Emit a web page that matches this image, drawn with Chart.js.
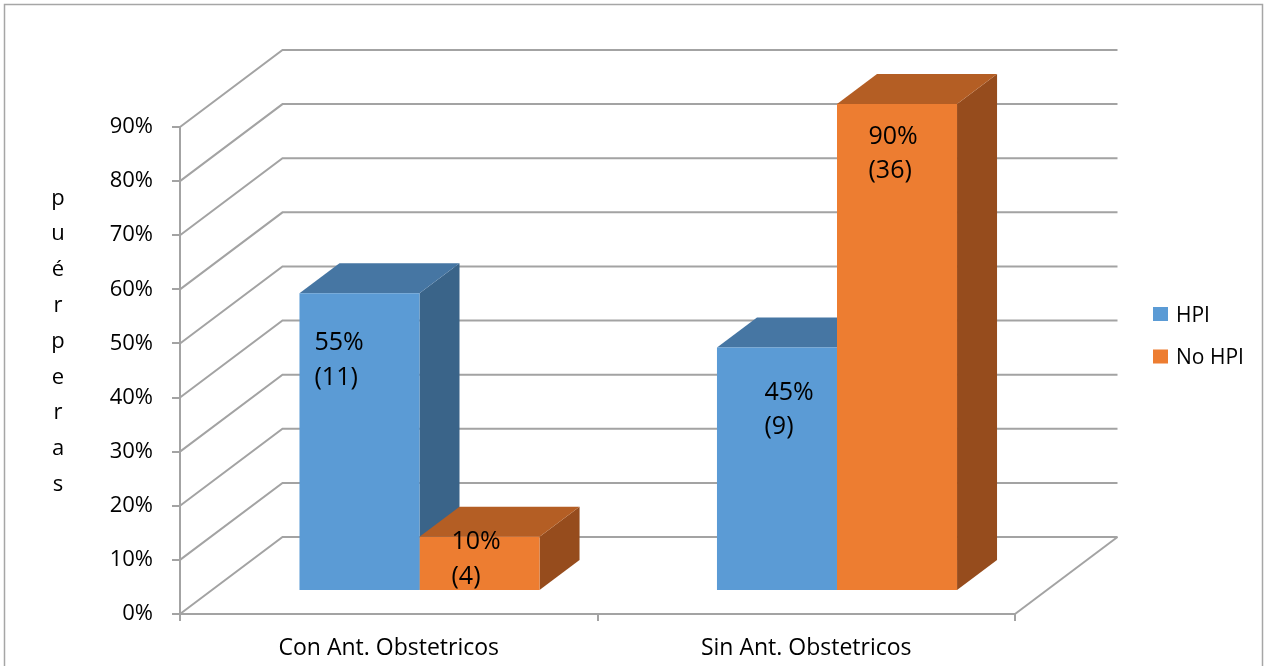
<!DOCTYPE html>
<html>
<head>
<meta charset="utf-8">
<title>HPI en puérperas</title>
<script src="https://cdn.jsdelivr.net/npm/chart.js@4.4.1/dist/chart.umd.min.js"></script>
<style>
  html, body { margin: 0; padding: 0; background: #fff; }
  #wrap { width: 1265px; height: 666px; }
</style>
</head>
<body>
<div id="wrap"><canvas id="chart" width="1265" height="666"></canvas></div>
<script>
// chart data
const categories = ['Con Ant. Obstetricos', 'Sin Ant. Obstetricos'];
const seriesNames = ['HPI', 'No HPI'];
const hpiValues = [55, 45];
const noHpiValues = [10, 90];
const hpiCounts = [11, 9];
const noHpiCounts = [4, 36];
const yTicks = [0, 10, 20, 30, 40, 50, 60, 70, 80, 90];
const yTitle = 'puérperas';

// look
const FONT = '"Open Sans", "Liberation Sans", sans-serif';
const GRID = '#a3a3a3';
const frontColors = ['#5b9bd5', '#ed7d31'];
const topColors = ['#4676a3', '#b45e24'];
const sideColors = ['#3a6489', '#964c1d'];
const DEPTH = { x: 102.5, y: -77 };    // back wall offset from the front axes
const BAR_FRONT = 0.3;                  // bars stand this far into the depth
const BAR_DEPTH = { x: 40, y: -30 };
// data label nudges (from bar front top-left to first baseline)
const labelDx = [[15, 47.5], [32, 31.5]];
const labelDy = [[57, 52.5], [12.5, 40]];
const counts = [hpiCounts, noHpiCounts];

const shift = { x: DEPTH.x * BAR_FRONT, y: DEPTH.y * BAR_FRONT };

function barBox(el) {
  const p = el.getProps(['x', 'y', 'base', 'width'], true);
  return {
    left: p.x - p.width / 2 + shift.x,
    right: p.x + p.width / 2 + shift.x,
    top: Math.min(p.y, p.base) + shift.y,
    bottom: Math.max(p.y, p.base) + shift.y
  };
}

function poly(ctx, pts, color) {
  ctx.beginPath();
  ctx.moveTo(pts[0][0], pts[0][1]);
  for (let k = 1; k < pts.length; k++) ctx.lineTo(pts[k][0], pts[k][1]);
  ctx.closePath();
  ctx.fillStyle = color;
  ctx.fill();
}

const depthPlugin = {
  id: 'depth3d',
  beforeDatasetsDraw(chart) {
    const { ctx, chartArea: a, scales: { y } } = chart;
    ctx.save();
    ctx.strokeStyle = GRID;
    ctx.lineWidth = 2;
    // side wall + back wall gridlines
    yTicks.forEach(v => {
      const py = y.getPixelForValue(v);
      ctx.beginPath();
      ctx.moveTo(a.left, py);
      ctx.lineTo(a.left + DEPTH.x, py + DEPTH.y);
      ctx.lineTo(a.right + DEPTH.x, py + DEPTH.y);
      ctx.stroke();
    });
    // floor edge on the right
    ctx.beginPath();
    ctx.moveTo(a.right, a.bottom);
    ctx.lineTo(a.right + DEPTH.x, a.bottom + DEPTH.y);
    ctx.stroke();

    // side and top faces, left to right
    categories.forEach((c, j) => {
      chart.data.datasets.forEach((ds, i) => {
        const b = barBox(chart.getDatasetMeta(i).data[j]);
        poly(ctx, [[b.right, b.top], [b.right + BAR_DEPTH.x, b.top + BAR_DEPTH.y],
          [b.right + BAR_DEPTH.x, b.bottom + BAR_DEPTH.y], [b.right, b.bottom]], sideColors[i]);
        poly(ctx, [[b.left, b.top], [b.left + BAR_DEPTH.x, b.top + BAR_DEPTH.y],
          [b.right + BAR_DEPTH.x, b.top + BAR_DEPTH.y], [b.right, b.top]], topColors[i]);
      });
    });
    ctx.restore();

    // front faces are drawn by Chart.js, pushed into the depth
    ctx.save();
    ctx.translate(shift.x, shift.y);
  },
  afterDatasetsDraw(chart) {
    const ctx = chart.ctx;
    ctx.restore();

    // data labels
    ctx.save();
    ctx.fillStyle = '#000';
    ctx.font = '25px ' + FONT;
    ctx.textAlign = 'left';
    ctx.textBaseline = 'alphabetic';
    chart.data.datasets.forEach((ds, i) => {
      ds.data.forEach((v, j) => {
        const b = barBox(chart.getDatasetMeta(i).data[j]);
        const x = b.left + labelDx[i][j];
        const yb = b.top + labelDy[i][j];
        ctx.fillText(v + '%', x, yb);
        ctx.fillText('(' + counts[i][j] + ')', x, yb + 34.5);
      });
    });
    ctx.restore();
  },
  afterDraw(chart) {
    const ctx = chart.ctx;
    ctx.save();
    // legend
    ctx.font = '21px ' + FONT;
    ctx.textBaseline = 'alphabetic';
    chart.data.datasets.forEach((ds, i) => {
      const top = 307 + i * 42.5;
      ctx.fillStyle = frontColors[i];
      ctx.fillRect(1153, top, 15, 14);
      ctx.fillStyle = '#000';
      ctx.fillText(ds.label, 1176, top + 14.5);
    });
    // vertical axis title, one letter per line
    ctx.font = '22px ' + FONT;
    ctx.textAlign = 'center';
    Array.from(yTitle).forEach((ch, k) => {
      ctx.fillText(ch, 58, 204.5 + k * 35.8);
    });
    // outer frame
    ctx.strokeStyle = '#a6a6a6';
    ctx.lineWidth = 1.5;
    ctx.strokeRect(4.5, 4.5, 1258, 680);
    ctx.restore();
  }
};

new Chart(document.getElementById('chart'), {
  type: 'bar',
  data: {
    labels: categories,
    datasets: [
      { label: seriesNames[0], data: hpiValues, backgroundColor: frontColors[0], clip: false },
      { label: seriesNames[1], data: noHpiValues, backgroundColor: frontColors[1], clip: false }
    ]
  },
  options: {
    responsive: false,
    animation: false,
    devicePixelRatio: 1,
    categoryPercentage: 0.575,
    barPercentage: 1,
    layout: { padding: { top: 127, right: 250, bottom: 0, left: 0 } },
    plugins: {
      legend: { display: false },
      tooltip: { enabled: false }
    },
    scales: {
      x: {
        grid: { offset: true, drawOnChartArea: false, tickLength: 7, color: GRID, lineWidth: 2 },
        border: { display: true, color: GRID, width: 2 },
        ticks: { color: '#000', font: { family: FONT, size: 23 }, padding: 14, maxRotation: 0 },
        afterFit: s => { s.height = 52; }
      },
      y: {
        min: 0,
        max: 90,
        afterBuildTicks: s => { s.ticks = yTicks.map(v => ({ value: v })); },
        grid: { drawOnChartArea: false, tickLength: 8, color: GRID, lineWidth: 2 },
        border: { display: true, color: GRID, width: 2 },
        ticks: { color: '#000', font: { family: FONT, size: 22 }, padding: 19, callback: v => v + '%' },
        afterFit: s => { s.width = 180; }
      }
    }
  },
  plugins: [depthPlugin]
});
</script>
</body>
</html>
